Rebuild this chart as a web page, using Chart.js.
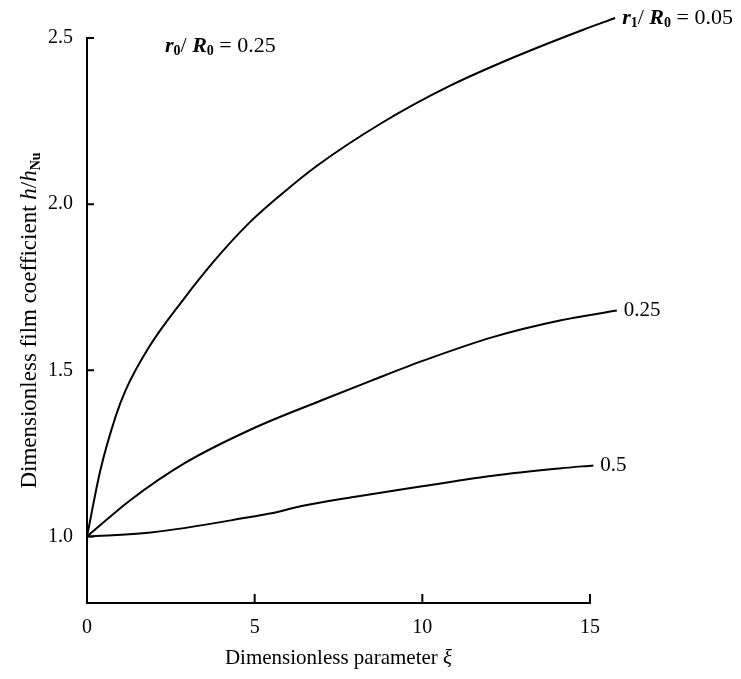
<!DOCTYPE html>
<html>
<head>
<meta charset="utf-8">
<script src="https://cdn.jsdelivr.net/npm/chart.js@4"></script>
<style>
  html, body { margin: 0; padding: 0; background: #fff; }
  #chart { display: block; }
</style>
</head>
<body>
<canvas id="chart" width="741" height="679"></canvas>
<script>
// r1/R0 = 0.05
const xi005 = [0, 0.4, 0.85, 1.15, 1.85, 2.85, 3.8, 4.8, 5.8, 6.85, 8.8, 10.8, 12.8, 14.8, 15.75];
const h005 = [1.0, 1.2, 1.36, 1.44, 1.57, 1.71, 1.83, 1.94, 2.03, 2.115, 2.245, 2.355, 2.445, 2.525, 2.56];
// r1/R0 = 0.25
const xi025 = [0, 1.3, 2.9, 4.95, 7.0, 8.5, 10.05, 12.1, 14.1, 15.8];
const h025 = [1.0, 1.11, 1.22, 1.325, 1.41, 1.47, 1.53, 1.60, 1.65, 1.68];
// r1/R0 = 0.5
const xi05 = [0, 1.9, 4.95, 5.5, 6.4, 8.0, 10.05, 12.1, 14.1, 15.1];
const h05 = [1.0, 1.012, 1.06, 1.07, 1.092, 1.12, 1.152, 1.183, 1.205, 1.214];

const xTicks = [0, 5, 10, 15];
const yTicks = [1.0, 1.5, 2.0, 2.5];

const FONT = 'Liberation Serif';

const pts = (xs, ys) => xs.map((x, i) => ({ x: x, y: ys[i] }));

const curve = (xs, ys) => ({
  data: pts(xs, ys),
  borderColor: '#000',
  borderWidth: 2,
  pointRadius: 0,
  fill: false,
  cubicInterpolationMode: 'monotone',
  clip: false
});

// draws a line of text made of pieces with their own font and baseline shift
function richText(ctx, parts, x, y, align) {
  let w = 0;
  parts.forEach(p => { ctx.font = p.font; w += ctx.measureText(p.t).width; });
  let cx = align === 'center' ? x - w / 2 : x;
  ctx.textAlign = 'left';
  ctx.textBaseline = 'middle';
  parts.forEach(p => {
    ctx.font = p.font;
    ctx.fillText(p.t, cx, y + (p.dy || 0));
    cx += ctx.measureText(p.t).width;
  });
}

const reg = '21px ' + FONT;
const big = '22px ' + FONT;
const bi = 'bold italic 22px ' + FONT;
const sub = 'bold 14px ' + FONT;

const ratio = (s, val) => [
  { t: 'r', font: bi }, { t: s, font: sub, dy: 5 },
  { t: '/ ', font: big }, { t: 'R', font: bi }, { t: '0', font: sub, dy: 5 },
  { t: ' = ' + val, font: big }
];

const annotations = {
  id: 'annotations',
  afterDraw(chart) {
    const ctx = chart.ctx;
    const xs = chart.scales.x, ys = chart.scales.y;
    const area = chart.chartArea;
    ctx.save();
    ctx.fillStyle = '#000';
    ctx.strokeStyle = '#000';
    ctx.lineWidth = 2;

    // inward tick marks
    ctx.beginPath();
    yTicks.forEach(v => {
      const py = ys.getPixelForValue(v);
      ctx.moveTo(area.left, py);
      ctx.lineTo(area.left + 7, py);
    });
    xTicks.slice(1).forEach(v => {
      const px = xs.getPixelForValue(v);
      ctx.moveTo(px, area.bottom);
      ctx.lineTo(px, area.bottom - 9);
    });
    ctx.stroke();

    // curve labels at the line ends
    const end = i => {
      const d = chart.data.datasets[i].data;
      const p = d[d.length - 1];
      return { x: xs.getPixelForValue(p.x) + 7, y: ys.getPixelForValue(p.y) };
    };
    let e = end(0);
    richText(ctx, ratio('1', '0.05'), e.x, e.y, 'left');
    e = end(1);
    richText(ctx, [{ t: '0.25', font: reg }], e.x, e.y, 'left');
    e = end(2);
    richText(ctx, [{ t: '0.5', font: reg }], e.x, e.y, 'left');

    richText(ctx, ratio('0', '0.25'), area.left + 78, area.top + 8, 'left');

    // axis titles
    richText(ctx, [
      { t: 'Dimensionless parameter ', font: '21px ' + FONT },
      { t: 'ξ', font: 'italic 21px ' + FONT }
    ], (area.left + area.right) / 2, 658, 'center');

    ctx.translate(30, (area.top + area.bottom) / 2);
    ctx.rotate(-Math.PI / 2);
    richText(ctx, [
      { t: 'Dimensionless film coefficient ', font: '23px ' + FONT },
      { t: 'h', font: 'italic 23px ' + FONT },
      { t: '/', font: '23px ' + FONT },
      { t: 'h', font: 'italic 23px ' + FONT },
      { t: 'Nu', font: 'bold 14px ' + FONT, dy: 6 }
    ], 0, 0, 'center');
    ctx.restore();
  }
};

new Chart(document.getElementById('chart'), {
  type: 'line',
  data: {
    datasets: [curve(xi005, h005), curve(xi025, h025), curve(xi05, h05)]
  },
  options: {
    responsive: false,
    animation: false,
    layout: { padding: { top: 38, right: 151, left: 0, bottom: 0 } },
    plugins: {
      legend: { display: false },
      tooltip: { enabled: false }
    },
    scales: {
      x: {
        type: 'linear',
        min: 0,
        max: 15,
        afterBuildTicks: s => { s.ticks = xTicks.map(v => ({ value: v })); },
        afterFit: s => { s.height = 76; },
        grid: { drawOnChartArea: false, drawTicks: false },
        border: { color: '#000', width: 2 },
        ticks: {
          color: '#000',
          font: { family: FONT, size: 20 },
          padding: 13,
          maxRotation: 0,
          callback: v => String(v)
        }
      },
      y: {
        type: 'linear',
        min: 0.8,
        max: 2.5,
        afterBuildTicks: s => { s.ticks = yTicks.map(v => ({ value: v })); },
        afterFit: s => { s.width = 87; },
        grid: { drawOnChartArea: false, drawTicks: false },
        border: { color: '#000', width: 2 },
        ticks: {
          color: '#000',
          font: { family: FONT, size: 20 },
          padding: 14,
          callback: v => v.toFixed(1)
        }
      }
    }
  },
  plugins: [annotations]
});
</script>
</body>
</html>
